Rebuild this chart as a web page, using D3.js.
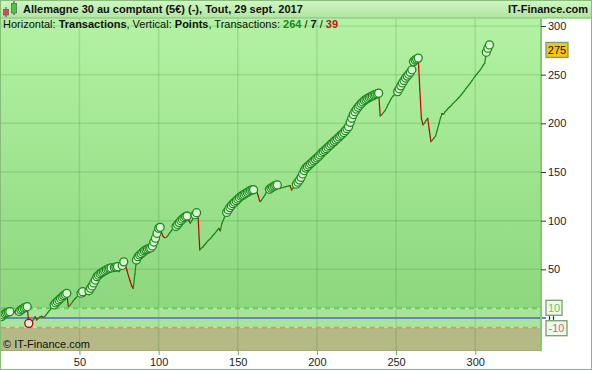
<!DOCTYPE html>
<html><head><meta charset="utf-8">
<script src="https://cdn.jsdelivr.net/npm/d3@7"></script>
<style>body{margin:0;background:#fff}svg{display:block;font-family:"Liberation Sans",Arial,sans-serif}</style>
</head><body><svg id="c" width="592" height="370"></svg>
<script>
// equity (points) after each trade, trade 0 = start
const equity = [0,
1.5, 3.1, 4.5, 5.4, 6, 6.5, 6.5, 6.5, 6.5, 4.2,
5, 6.8, 8.2, 9.2, 10.3, 11, 11.6, -5.5, -3.5, -2.5,
-2, 1.3, -2, -0.5, 1, 1.8, 0.7, 1.5, 3.5, 5.5,
7.5, 9.5, 11.5, 13.4, 15.5, 17, 18.5, 20, 21.5, 23,
24.2, 25.4, 11.6, 13, 15, 17.5, 19.5, 21, 23, 24.5,
25.5, 27, 22.5, 24, 26, 28, 30.5, 33, 36, 39,
42.4, 44, 45.5, 46.5, 47.5, 48.5, 49.5, 50.3, 51, 51.5,
51.2, 51.8, 52.3, 52.7, 47.6, 50, 54, 57.7, 54, 49,
43, 38, 33, 30.5, 45, 59.6, 63, 64.7, 66, 67.5,
69, 70, 70.8, 71.6, 72, 74, 78, 82, 87, 92.2,
93.2, 87, 83.5, 82.5, 83, 85, 87.5, 89.5, 91.5, 93,
94, 96, 98, 100, 101.5, 103, 104, 104.8, 100.5, 97.5,
100, 103, 106, 108.2, 102.5, 70, 71.5, 73, 75, 77,
79, 80.5, 82, 84, 86, 88, 90, 92.2, 89.5, 97.3,
101, 105, 108.5, 111, 113.5, 115.5, 117.5, 119, 120.5, 122,
123.5, 125, 126, 127, 128, 129, 130, 131, 131.5, 131.8,
131.2, 130, 125, 119.5, 121, 123.5, 126, 129, 131.5, 132.2,
133.5, 134.5, 135.5, 136.3, 136.7, 134.5, 133.3, 133.8, 134.3, 134.8,
135.2, 135.6, 136, 131.5, 133.5, 135.5, 137.5, 139.5, 141.8, 144.5,
148, 151.5, 154, 155.5, 157, 158.5, 160, 161.5, 163, 164.5,
166, 167.5, 169.5, 171, 172.5, 174, 175.5, 177, 178.5, 180,
181.5, 183, 184.5, 186, 187.5, 189, 190.5, 192.5, 194.5, 196.6,
201, 205.2, 209, 212, 214.5, 216.5, 218.5, 220.5, 222, 223.5,
224.5, 225.5, 226.5, 227.4, 228.2, 229, 229.7, 230.3, 231, 207.6,
209, 211, 213, 216, 219.5, 222.5, 225.5, 228, 229.5, 231,
232.6, 235.5, 238.5, 241.5, 244, 246.5, 248.5, 250.5, 252.5, 255,
263.4, 265, 266, 267, 235, 205, 198.4, 200.5, 203, 205.2,
193, 181.2, 183, 185, 187, 193, 199, 205, 210, 209.3,
212, 213.5, 215.5, 217, 218.5, 220.5, 222, 223.5, 225.5, 227,
229, 231, 233, 235.5, 237.5, 239.5, 241.5, 244, 246.3, 248.5,
250.5, 252.5, 254.5, 257, 259.5, 261.8, 273, 277.2, 280.6, 275.4];

const xTicks = [50, 100, 150, 200, 250, 300];
const yTicks = [50, 100, 150, 200, 250, 300];
const gridY = [50, 100, 150, 200, 250, 300];
const bandLevels = [10, -10];
const titleText = "Allemagne 30 au comptant (5€) (-), Tout, 29 sept. 2017";
const brand = "IT-Finance.com";
const copyright = "© IT-Finance.com";
const counts = [264, 7, 39];
const lastLabel = "275";

const svg = d3.select("#c");
const PL = 1, PR = 541, PT = 18.5, PB = 351;
const x = d3.scaleLinear().domain([0, 342]).range([0.3, 541.7]);
const y = d3.scaleLinear().domain([-33.9, 307.7]).range([PB, PT]);

const defs = svg.append("defs");
const g1 = defs.append("linearGradient").attr("id","bg").attr("x1",0).attr("y1",0).attr("x2",0).attr("y2",1);
g1.append("stop").attr("offset","0%").attr("stop-color","#b3f2a3");
g1.append("stop").attr("offset","100%").attr("stop-color","#8dd77e");
const g2 = defs.append("linearGradient").attr("id","tb").attr("x1",0).attr("y1",0).attr("x2",0).attr("y2",1);
g2.append("stop").attr("offset","0%").attr("stop-color","#d2f6c6");
g2.append("stop").attr("offset","100%").attr("stop-color","#aee59e");

// backgrounds
svg.append("rect").attr("x",PL).attr("y",PT).attr("width",PR-PL).attr("height",y(bandLevels[0])-PT).attr("fill","url(#bg)");
svg.append("rect").attr("x",PL).attr("y",y(bandLevels[0])).attr("width",PR-PL).attr("height",y(bandLevels[1])-y(bandLevels[0])).attr("fill","#a8e49a");
svg.append("rect").attr("x",PL).attr("y",y(bandLevels[1])).attr("width",PR-PL).attr("height",PB-y(bandLevels[1])).attr("fill","#b4b986");
svg.append("line").attr("x1",PL).attr("x2",PR).attr("y1",PB-0.5).attr("y2",PB-0.5).attr("stroke","#a4a878").attr("stroke-width",1);

// grid
svg.append("g").selectAll("line").data(gridY).join("line")
  .attr("x1",PL).attr("x2",PR).attr("y1",d=>y(d)).attr("y2",d=>y(d))
  .attr("stroke","rgba(40,120,40,0.16)").attr("stroke-width",1.5);
svg.append("g").selectAll("line").data(xTicks).join("line")
  .attr("x1",d=>x(d)).attr("x2",d=>x(d)).attr("y1",PT).attr("y2",PB)
  .attr("stroke","rgba(40,120,40,0.16)").attr("stroke-width",1.5);

// dashed levels
svg.append("line").attr("x1",PL).attr("x2",PR).attr("y1",y(bandLevels[0])).attr("y2",y(bandLevels[0]))
  .attr("stroke","#62d062").attr("stroke-width",2).attr("stroke-dasharray","5,4");
svg.append("line").attr("x1",PL).attr("x2",PR).attr("y1",y(bandLevels[1])).attr("y2",y(bandLevels[1]))
  .attr("stroke","#c99a80").attr("stroke-width",2).attr("stroke-dasharray","5,4");
svg.append("line").attr("x1",PL).attr("x2",546).attr("y1",y(0)).attr("y2",y(0))
  .attr("stroke","#6b80cf").attr("stroke-width",2);

// equity segments
const pts = equity.map((v,i)=>({i, v}));
const segs = pts.slice(1).map((p,k)=>({a:pts[k], b:p}));
svg.append("g").selectAll("line").data(segs).join("line")
  .attr("x1",d=>x(d.a.i)).attr("y1",d=>y(d.a.v)).attr("x2",d=>x(d.b.i)).attr("y2",d=>y(d.b.v))
  .attr("stroke",d=>d.b.v < d.a.v ? "#c80000" : "#158a15").attr("stroke-width",1.2).attr("stroke-linecap","round");

// markers at new highs / new lows
let mx = 0, mn = 0; const marks = [];
pts.forEach(p=>{ if (p.i===0) return;
  if (p.v > mx) { mx = p.v; marks.push({p, c:"#1a8c1a"}); }
  else if (p.v < mn) { mn = p.v; marks.push({p, c:"#c00000"}); } });
svg.append("g").selectAll("circle").data(marks).join("circle")
  .attr("cx",d=>x(d.p.i)).attr("cy",d=>y(d.p.v)).attr("r",4)
  .attr("fill","rgba(228,250,222,0.9)").attr("stroke",d=>d.c).attr("stroke-width",1.3);

// right border of plot
svg.append("line").attr("x1",PR).attr("x2",PR).attr("y1",PT).attr("y2",PB).attr("stroke","#86c878").attr("stroke-width",2);

// right axis
const ra = svg.append("g").attr("transform",`translate(${PR},0)`)
  .call(d3.axisRight(y).tickValues(yTicks).tickSize(5).tickPadding(2).tickFormat(d3.format("d")));
ra.select(".domain").remove();
ra.selectAll(".tick line").attr("stroke","#333");
ra.selectAll("text").attr("font-size",11).attr("fill","#222").attr("font-family","Liberation Sans, Arial, sans-serif");

// hidden zero label remnants (peeking between the level boxes)
svg.append("g").selectAll("line").data([549.5, 553.5]).join("line")
  .attr("x1",d=>d).attr("x2",d=>d).attr("y1",y(0)-1.8).attr("y2",y(0)+1.8)
  .attr("stroke","#222").attr("stroke-width",1.2);

// level labels
function box(val, txt, fill, col, w) {
  const cy = y(val);
  svg.append("rect").attr("x",546).attr("y",cy-7.5).attr("width",w).attr("height",15)
    .attr("fill",fill).attr("stroke","#76a068").attr("stroke-width",1.3);
  svg.append("text").attr("x",546+w/2).attr("y",cy+4).attr("text-anchor","middle")
    .attr("font-size",11).attr("fill",col).text(txt);
}
box(bandLevels[0]+0.5, String(bandLevels[0]), "#f0f9ee", "#5ccc5c", 16);
box(bandLevels[1]-0.5, String(bandLevels[1]), "#f0f9ee", "#e06464", 21);
box(equity[equity.length-1], lastLabel, "#f5c518", "#111", 22);

// bottom axis
const ba = svg.append("g").attr("transform",`translate(0,${PB})`)
  .call(d3.axisBottom(x).tickValues(xTicks).tickSize(4).tickPadding(3).tickFormat(d3.format("d")));
ba.select(".domain").remove();
ba.selectAll(".tick line").attr("stroke","#6aa860");
ba.selectAll("text").attr("font-size",11).attr("fill","#222").attr("font-family","Liberation Sans, Arial, sans-serif");

// title bar
svg.append("rect").attr("x",0).attr("y",0).attr("width",592).attr("height",PT).attr("fill","url(#tb)");
svg.append("line").attr("x1",0).attr("x2",592).attr("y1",PT-0.5).attr("y2",PT-0.5).attr("stroke","#86bd78");
// icon
svg.append("line").attr("x1",6).attr("x2",6).attr("y1",7).attr("y2",17).attr("stroke","#444");
svg.append("rect").attr("x",3.5).attr("y",9.5).attr("width",5).attr("height",5.5).attr("fill","#e04848").attr("stroke","#666").attr("stroke-width",0.8);
svg.append("line").attr("x1",14).attr("x2",14).attr("y1",1).attr("y2",15).attr("stroke","#444");
svg.append("rect").attr("x",11.5).attr("y",3.5).attr("width",5).attr("height",9.5).attr("fill","#48c848").attr("stroke","#666").attr("stroke-width",0.8);
svg.append("text").attr("x",23).attr("y",12.5).attr("font-size",11).attr("font-weight","bold").attr("fill","#111").text(titleText);
svg.append("text").attr("x",588).attr("y",12.5).attr("text-anchor","end").attr("font-size",11).attr("font-weight","bold").attr("fill","#111").text(brand);

// subtitle
const st = svg.append("text").attr("x",3).attr("y",28).attr("font-size",11).attr("fill","#111");
st.append("tspan").text("Horizontal: ");
st.append("tspan").attr("font-weight","bold").text("Transactions");
st.append("tspan").text(", Vertical: ");
st.append("tspan").attr("font-weight","bold").text("Points");
st.append("tspan").text(", Transactions: ");
st.append("tspan").attr("font-weight","bold").attr("fill","#1a8a1a").text(counts[0]);
st.append("tspan").text(" / ");
st.append("tspan").attr("font-weight","bold").text(counts[1]);
st.append("tspan").text(" / ");
st.append("tspan").attr("font-weight","bold").attr("fill","#b81818").text(counts[2]);

svg.append("text").attr("x",3).attr("y",348).attr("font-size",11).attr("fill","#111").text(copyright);

// outer frame
svg.append("line").attr("x1",0.5).attr("x2",0.5).attr("y1",0).attr("y2",PB).attr("stroke","#6e9a62");
svg.append("rect").attr("x",0.5).attr("y",0.5).attr("width",591).attr("height",369).attr("fill","none").attr("stroke","#86bd78");
</script></body></html>
